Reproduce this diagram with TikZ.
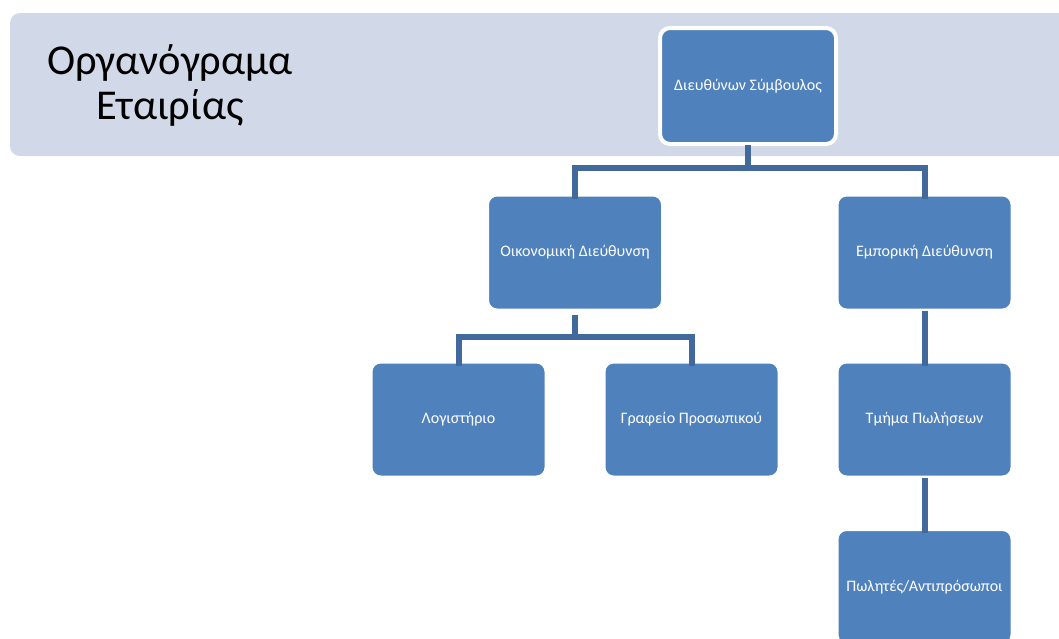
\documentclass[tikz,border=0pt]{standalone}
\usepackage{fontspec}
\setmainfont{Carlito}
\definecolor{banner}{HTML}{D1D8E8}
\definecolor{boxblue}{HTML}{4F81BD}
\definecolor{linkblue}{HTML}{41699C}
\tikzset{
  orgbox/.style={draw=white, line width=4pt, fill=boxblue, rounded corners=10pt,
    minimum width=176pt, minimum height=116pt, inner sep=0pt, text=white,
    font=\fontsize{16}{19}\selectfont},
  link/.style={draw=linkblue, line width=6pt}
}
\begin{document}
\begin{tikzpicture}[x=1pt,y=-1pt]
\useasboundingbox (0,0) rectangle (1059,638);
\begin{scope}
\clip (0,0) rectangle (1059,638);
\fill[banner, rounded corners=10pt] (10,13) rectangle (1080,156);
\node[align=center, font=\fontsize{42.5}{45}\selectfont] (title) at (170,85) {Οργανόγραμα\\Εταιρίας};
\node[orgbox] (ceo) at (748,86) {Διευθύνων Σύμβουλος};
\node[orgbox] (fin) at (575,252.5) {Οικονομική Διεύθυνση};
\node[orgbox] (com) at (924.5,252.5) {Εμπορική Διεύθυνση};
\node[orgbox] (acc) at (458.5,419.5) {Λογιστήριο};
\node[orgbox] (hr) at (691.5,419.5) {Γραφείο Προσωπικού};
\node[orgbox] (sales) at (924.5,419.5) {Τμήμα Πωλήσεων};
\node[orgbox] (reps) at (924.5,587) {Πωλητές/Αντιπρόσωποι};
\coordinate (b1) at (748,168);
\coordinate (b2) at (575,337);
\draw[link] (ceo.south) ++(0,-1) -- (b1);
\draw[link, line join=miter] ([yshift=-6pt]fin.north) -- (fin.north |- b1) -- (com.north |- b1) -- ([yshift=-6pt]com.north);
\draw[link] (fin.south) ++(0,2) -- (b2);
\draw[link, line join=miter] ([yshift=-6pt]acc.north) -- (acc.north |- b2) -- (hr.north |- b2) -- ([yshift=-6pt]hr.north);
\draw[link] ([yshift=2pt]com.south) -- ([yshift=-6pt]sales.north);
\draw[link] ([yshift=2pt]sales.south) -- ([yshift=-6pt]reps.north);
\end{scope}
\end{tikzpicture}
\end{document}
